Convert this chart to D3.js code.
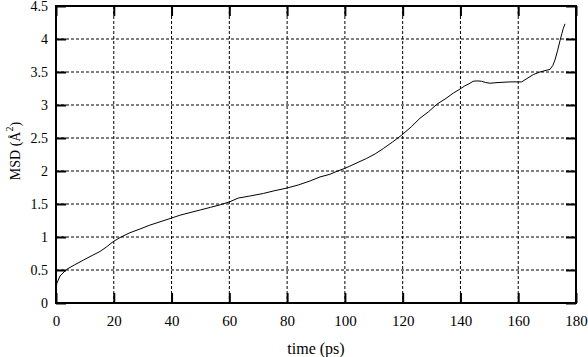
<!DOCTYPE html>
<html><head><meta charset="utf-8">
<script src="https://cdn.jsdelivr.net/npm/d3@7"></script>
<style>
body{margin:0;background:#fff;}
text{font-family:"Liberation Serif","DejaVu Serif",serif;fill:#000;}
</style></head>
<body><svg id="c" width="588" height="357"></svg>
<script>
const timePs = [0,0.3,1.4,3.7,6.5,9.5,12.5,15.2,17.5,19.8,22.5,25.6,29,32.5,36,39.5,42.9,46.4,50,53.5,57,60.2,63.1,67,71.8,75.5,79.8,84,88,91.4,94.8,97.5,100,103.5,107.5,110.5,113.3,116.5,119.7,123,126,129,131.8,135,137.5,139.8,141.5,143.3,144.4,145.8,147.3,148.8,150.2,153,157.1,161.2,163,165.2,167.5,171,172,172.7,173.6,174.5,175.1,175.6,176.2];
const msd    = [0.2,0.3,0.41,0.51,0.58,0.65,0.72,0.78,0.85,0.93,1.0,1.065,1.12,1.18,1.23,1.28,1.33,1.37,1.41,1.45,1.49,1.535,1.59,1.62,1.66,1.7,1.74,1.79,1.85,1.91,1.95,2.0,2.04,2.11,2.19,2.26,2.34,2.44,2.545,2.67,2.8,2.9,3.01,3.1,3.18,3.24,3.29,3.33,3.36,3.365,3.36,3.34,3.33,3.34,3.35,3.35,3.4,3.46,3.5,3.54,3.6,3.68,3.82,3.98,4.08,4.16,4.23];
const xTicks = [0,20,40,60,80,100,120,140,160,180];
const yTicks = [0,0.5,1,1.5,2,2.5,3,3.5,4,4.5];
const yTickLabels = ["0","0.5","1","1.5","2","2.5","3","3.5","4","4.5"];

const L=56,R=576,T=6,B=303;
const svg=d3.select("#c");
const x=d3.scaleLinear().domain([0,180]).range([L,R]);
const y=d3.scaleLinear().domain([0,4.5]).range([B,T]);

// grid
const g=svg.append("g");
g.selectAll(".gx").data(xTicks.slice(1,-1)).enter().append("line")
 .attr("x1",d=>x(d)).attr("x2",d=>x(d)).attr("y1",T).attr("y2",B)
 .attr("stroke","#000").attr("stroke-width",1).attr("stroke-dasharray","3,2");
g.selectAll(".gy").data(yTicks.slice(1,-1)).enter().append("line")
 .attr("x1",L).attr("x2",R).attr("y1",d=>y(d)).attr("y2",d=>y(d))
 .attr("stroke","#000").attr("stroke-width",1).attr("stroke-dasharray","3,2");

// axes via d3
const tl=10;
svg.append("g").attr("transform",`translate(0,${B})`)
 .call(d3.axisBottom(x).tickValues(xTicks).tickSize(-tl).tickPadding(12).tickFormat(d3.format("d")))
 .call(a=>{a.select(".domain").remove();a.selectAll("line").attr("stroke-width",2);a.selectAll("text").attr("font-size",15).attr("font-family","Liberation Serif");});
svg.append("g").attr("transform",`translate(0,${T})`)
 .call(d3.axisTop(x).tickValues(xTicks).tickSize(-tl).tickFormat(""))
 .call(a=>{a.select(".domain").remove();a.selectAll("line").attr("stroke-width",2);});
svg.append("g").attr("transform",`translate(${L},0)`)
 .call(d3.axisLeft(y).tickValues(yTicks).tickSize(-tl).tickPadding(8).tickFormat((d,i)=>yTickLabels[i]))
 .call(a=>{a.select(".domain").remove();a.selectAll("line").attr("stroke-width",2);a.selectAll("text").attr("font-size",14).attr("font-family","Liberation Serif").attr("dy","0.34em");});
svg.append("g").attr("transform",`translate(${R},0)`)
 .call(d3.axisRight(y).tickValues(yTicks).tickSize(-tl).tickFormat(""))
 .call(a=>{a.select(".domain").remove();a.selectAll("line").attr("stroke-width",2);});

// frame
svg.append("rect").attr("x",L).attr("y",T).attr("width",R-L).attr("height",B-T)
 .attr("fill","none").attr("stroke","#000").attr("stroke-width",2);

// curve
const data=timePs.map((t,i)=>[t,msd[i]]);
svg.append("path").datum(data)
 .attr("d",d3.line().x(d=>x(d[0])).y(d=>y(d[1])))
 .attr("fill","none").attr("stroke","#000").attr("stroke-width",1);

// axis titles
svg.append("text").attr("x",(L+R)/2).attr("y",354).attr("text-anchor","middle").attr("font-size",16).text("time (ps)");
const yt=svg.append("text").attr("transform",`translate(20,151) rotate(-90)`).attr("text-anchor","middle").attr("font-size",14);
yt.append("tspan").text("MSD (Å");
yt.append("tspan").attr("font-size",10).attr("dy",-7).text("2");
yt.append("tspan").attr("dy",7).text(")");
</script></body></html>
